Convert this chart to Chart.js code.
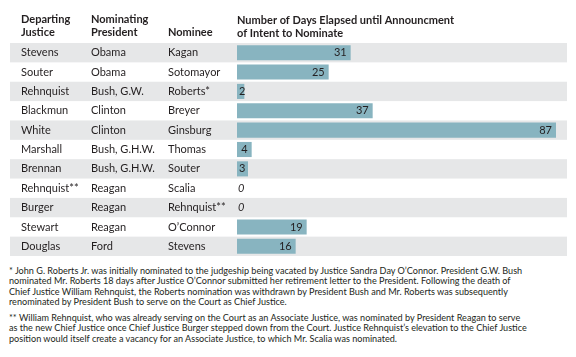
<!DOCTYPE html>
<html><head><meta charset="utf-8">
<script src="https://cdn.jsdelivr.net/npm/chart.js@4.4.1/dist/chart.umd.min.js"></script>
<style>
html,body{margin:0;padding:0;background:#fff;width:576px;height:357px;overflow:hidden}
#wrap{position:absolute;left:0;top:0;width:576px;height:260px}
.note{position:absolute;left:9px;font-family:Lato,sans-serif;font-size:9.1px;line-height:10.5px;color:#231f20;white-space:pre}
</style></head><body>
<div id="wrap"><canvas id="c"></canvas></div>
<div class="note" style="top:265.5px">* John G. Roberts Jr. was initially nominated to the judgeship being vacated by Justice Sandra Day O’Connor. President G.W. Bush
nominated Mr. Roberts 18 days after Justice O’Connor submitted her retirement letter to the President. Following the death of
Chief Justice William Rehnquist, the Roberts nomination was withdrawn by President Bush and Mr. Roberts was subsequently
renominated by President Bush to serve on the Court as Chief Justice.</div>
<div class="note" style="top:312.5px">** William Rehnquist, who was already serving on the Court as an Associate Justice, was nominated by President Reagan to serve
as the new Chief Justice once Chief Justice Burger stepped down from the Court. Justice Rehnquist’s elevation to the Chief Justice
position would itself create a vacancy for an Associate Justice, to which Mr. Scalia was nominated.</div>
<script>
const departing = ['Stevens','Souter','Rehnquist','Blackmun','White','Marshall','Brennan','Rehnquist**','Burger','Stewart','Douglas'];
const presidents = ['Obama','Obama','Bush, G.W.','Clinton','Clinton','Bush, G.H.W.','Bush, G.H.W.','Reagan','Reagan','Reagan','Ford'];
const nominees = ['Kagan','Sotomayor','Roberts*','Breyer','Ginsburg','Thomas','Souter','Scalia','Rehnquist**','O\u2019Connor','Stevens'];
const days = [31,25,2,37,87,4,3,0,0,19,16];

const TXT = '#231f20';
const tablePlugin = {
  id: 'table',
  beforeDatasetsDraw(chart) {
    const ctx = chart.ctx, y = chart.scales.y, a = chart.chartArea;
    const h = (a.bottom - a.top) / departing.length;
    ctx.save();
    departing.forEach((d, i) => {
      const yc = y.getPixelForValue(i);
      if (i % 2 === 0) { ctx.fillStyle = '#e6e7e8'; ctx.fillRect(10, yc - h/2, a.right - 10, h); }
    });
    ctx.fillStyle = TXT; ctx.textBaseline = 'middle'; ctx.textAlign = 'left';
    ctx.font = '11px Lato';
    departing.forEach((d, i) => {
      const yc = y.getPixelForValue(i);
      ctx.fillText(d, 21, yc);
      ctx.fillText(presidents[i], 91, yc);
      ctx.fillText(nominees[i], 168, yc);
    });
    ctx.font = 'bold 11px Lato';
    ctx.fillText('Departing', 21, 19); ctx.fillText('Justice', 21, 32);
    ctx.fillText('Nominating', 91, 19); ctx.fillText('President', 91, 32);
    ctx.fillText('Nominee', 168, 32);
    ctx.fillText('Number of Days Elapsed until Announcment', 237, 20);
    ctx.fillText('of Intent to Nominate', 237, 33);
    ctx.restore();
  },
  afterDatasetsDraw(chart) {
    const ctx = chart.ctx, meta = chart.getDatasetMeta(0), a = chart.chartArea;
    ctx.save();
    ctx.fillStyle = TXT; ctx.textBaseline = 'middle';
    meta.data.forEach((bar, i) => {
      const v = days[i];
      if (v === 0) {
        ctx.font = 'italic 11px Lato'; ctx.textAlign = 'left';
        ctx.fillText(String(v), a.left + 1, bar.y);
      } else {
        ctx.font = '11px Lato'; ctx.textAlign = 'right';
        const w = ctx.measureText(String(v)).width;
        const x = Math.max(bar.x - 4, a.left + 2 + w);
        ctx.fillText(String(v), x, bar.y);
      }
    });
    ctx.restore();
  }
};

new Chart(document.getElementById('c'), {
  type: 'bar',
  data: { labels: departing, datasets: [{ data: days, backgroundColor: '#88b4c0', borderWidth: 0, barPercentage: 0.78, categoryPercentage: 1 }] },
  options: {
    indexAxis: 'y', responsive: true, maintainAspectRatio: false, animation: false,
    layout: { padding: { left: 237, right: 9, top: 43, bottom: 4 } },
    scales: { x: { display: false, min: 0, max: 90 }, y: { display: false } },
    plugins: { legend: { display: false }, tooltip: { enabled: false } }
  },
  plugins: [tablePlugin]
});
</script>
</body></html>
